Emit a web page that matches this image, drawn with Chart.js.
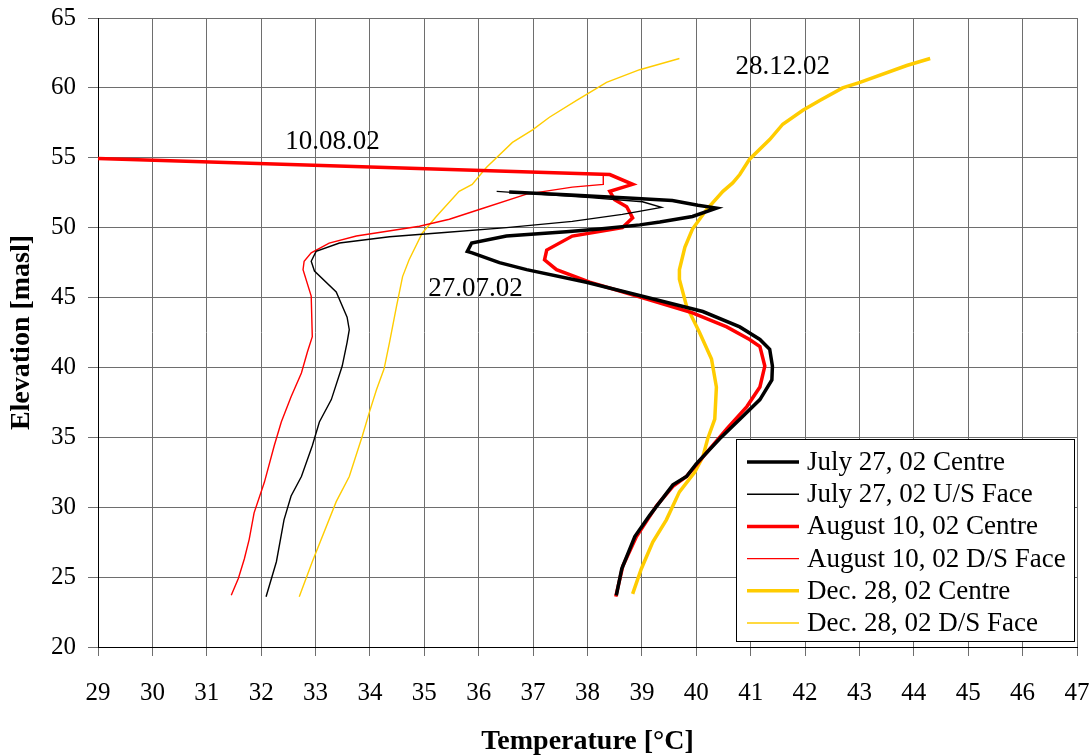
<!DOCTYPE html>
<html>
<head>
<meta charset="utf-8">
<script src="https://cdn.jsdelivr.net/npm/chart.js@4/dist/chart.umd.min.js"></script>
<style>
    html, body { margin: 0; padding: 0; background: #fff; }
    #wrap { width: 1092px; height: 756px; }
</style>
</head>
<body>
<div id="wrap"><canvas id="profile-chart" width="1092" height="756"></canvas></div>
<script>
// Temperature profiles (x = temperature °C, y = elevation masl)
const seriesLabels = [
    'July 27, 02 Centre',
    'July 27, 02 U/S Face',
    'August 10, 02 Centre',
    'August 10, 02 D/S Face',
    'Dec. 28, 02 Centre',
    'Dec. 28, 02 D/S Face'
];

const julyCentreTemp = [38.53, 38.63, 38.87, 39.14, 39.57, 39.82, 40.0, 40.43, 40.8, 41.17, 41.39, 41.4, 41.35, 41.17, 40.8, 40.12,
    38.9, 37.98, 36.88, 36.38, 35.88, 35.79, 35.87, 36.51, 37.61, 38.22, 38.96, 39.33, 39.93, 40.37, 40.03, 39.56, 38.83, 37.61, 36.56];
const julyCentreElev = [23.7, 25.6, 27.9, 29.4, 31.6, 32.2, 33.1, 34.9, 36.3, 37.7, 39.1, 40.1, 41.3, 42.0, 42.9, 44.0,
    45.2, 46.1, 47.0, 47.5, 48.2, 48.3, 48.9, 49.4, 49.7, 49.9, 50.2, 50.4, 50.8, 51.4, 51.6, 51.95, 52.1, 52.35, 52.55];

const julyFaceTemp = [32.09, 32.28, 32.42, 32.55, 32.74, 32.94, 33.07, 33.29, 33.49, 33.58, 33.62, 33.58, 33.38, 32.98, 32.92,
    33.01, 33.44, 34.36, 35.37, 36.51, 37.72, 38.64, 39.36, 39.01, 38.04, 36.33];
const julyFaceElev = [23.6, 26.1, 29.1, 30.8, 32.2, 34.4, 36.1, 37.7, 40.1, 41.8, 42.7, 43.6, 45.4, 46.9, 47.6,
    48.3, 48.9, 49.35, 49.65, 50.0, 50.45, 50.95, 51.45, 51.85, 52.15, 52.6];

const augCentreTemp = [38.52, 38.65, 38.9, 39.27, 39.57, 39.82, 40.19, 40.56, 40.93, 41.17, 41.26, 41.17, 40.98, 40.56, 39.93,
    39.09, 38.04, 37.43, 37.21, 37.25, 37.72, 38.64, 38.83, 38.72, 38.5, 38.41, 38.83, 38.41, 29.0];
const augCentreElev = [23.6, 25.8, 27.9, 30.1, 31.5, 32.2, 33.9, 35.6, 37.2, 38.6, 40.1, 41.5, 42.0, 42.9, 43.9,
    44.9, 46.1, 47.0, 47.7, 48.4, 49.4, 50.0, 50.7, 51.5, 52.0, 52.6, 53.1, 53.8, 54.95];

const augFaceTemp = [31.45, 31.58, 31.69, 31.78, 31.87, 32.06, 32.24, 32.37, 32.55, 32.74, 32.85, 32.94, 32.92, 32.77, 32.79,
    32.92, 33.25, 33.75, 34.91, 35.46, 36.01, 36.88, 37.72, 38.29, 38.29];
const augFaceElev = [23.7, 24.9, 26.3, 27.7, 29.6, 31.8, 34.4, 36.1, 37.9, 39.6, 41.1, 42.2, 45.1, 47.0, 47.6,
    48.2, 48.9, 49.4, 50.1, 50.6, 51.3, 52.4, 52.9, 53.1, 53.8];

const decCentreTemp = [38.83, 38.99, 39.2, 39.45, 39.69, 39.97, 40.12, 40.21, 40.34, 40.37, 40.28, 40.06, 39.82, 39.69, 39.69,
    39.79, 39.93, 40.19, 40.49, 40.67, 40.8, 40.98, 41.35, 41.59, 41.96, 42.27, 42.69, 43.01, 43.87, 44.3];
const decCentreElev = [23.8, 25.6, 27.5, 29.1, 31.1, 32.5, 33.6, 34.9, 36.3, 38.6, 40.6, 42.5, 44.4, 46.3, 47.0,
    48.6, 49.9, 51.3, 52.6, 53.2, 53.8, 54.9, 56.3, 57.4, 58.4, 59.1, 60.0, 60.4, 61.6, 62.1];

const decFaceTemp = [32.7, 32.94, 33.38, 33.62, 33.86, 33.99, 34.12, 34.26, 34.36, 34.49, 34.6, 34.72, 34.96, 35.22, 35.64,
    35.88, 36.14, 36.62, 36.99, 37.3, 37.8, 38.35, 38.96, 39.69];
const decFaceElev = [23.6, 26.1, 30.4, 32.2, 35.1, 36.8, 38.4, 39.9, 41.8, 44.4, 46.5, 47.7, 49.6, 50.8, 52.6,
    53.1, 54.3, 56.1, 57.0, 57.9, 59.1, 60.4, 61.3, 62.1];

// Date labels written on the plot
const noteText = ['10.08.02', '27.07.02', '28.12.02'];
const noteTemp = [33.31, 35.94, 41.59];
const noteElev = [56.1, 45.6, 61.5];

const xMin = 29, xMax = 47, xStep = 1;
const yMin = 20, yMax = 65, yStep = 5;

const FONT = "'Liberation Serif', 'Times New Roman', serif";

function toPoints(temps, elevs) {
    return temps.map(function(t, i) { return { x: t, y: elevs[i] }; });
}

const seriesTemps = [julyCentreTemp, julyFaceTemp, augCentreTemp, augFaceTemp, decCentreTemp, decFaceTemp];
const seriesElevs = [julyCentreElev, julyFaceElev, augCentreElev, augFaceElev, decCentreElev, decFaceElev];
const seriesColors = ['#000000', '#000000', '#ff0000', '#ff0000', '#ffcc00', '#ffcc00'];
const seriesWidths = [3.5, 1.4, 3.5, 1.4, 3.5, 1.4];

const datasets = seriesLabels.map(function(label, i) {
    return {
        label: label,
        data: toPoints(seriesTemps[i], seriesElevs[i]),
        showLine: true,
        borderColor: seriesColors[i],
        backgroundColor: seriesColors[i],
        borderWidth: seriesWidths[i],
        pointRadius: 0,
        tension: 0,
        fill: false,
        clip: 4
    };
});

// Date labels placed through the scales
const notesPlugin = {
    id: 'notes',
    afterDatasetsDraw: function(chart) {
        const ctx = chart.ctx;
        const xs = chart.scales.x, ys = chart.scales.y;
        ctx.save();
        ctx.font = '27px ' + FONT;
        ctx.fillStyle = '#000';
        ctx.textAlign = 'center';
        ctx.textBaseline = 'middle';
        noteText.forEach(function(txt, i) {
            ctx.fillText(txt, xs.getPixelForValue(noteTemp[i]), ys.getPixelForValue(noteElev[i]));
        });
        ctx.restore();
    }
};

// Boxed legend inside the plot, bottom right
const boxLegendPlugin = {
    id: 'boxLegend',
    afterDraw: function(chart) {
        const ctx = chart.ctx;
        const area = chart.chartArea;
        const w = 338, h = 202;
        const left = area.right - 3 - w;
        const top = area.bottom - 6 - h;
        ctx.save();
        ctx.fillStyle = '#fff';
        ctx.fillRect(left, top, w, h);
        ctx.strokeStyle = '#000';
        ctx.lineWidth = 1;
        ctx.strokeRect(left + 0.5, top + 0.5, w, h);
        ctx.font = '27px ' + FONT;
        ctx.textBaseline = 'middle';
        ctx.textAlign = 'left';
        chart.data.datasets.forEach(function(ds, i) {
            const y = top + 23 + i * 32.2;
            ctx.beginPath();
            ctx.strokeStyle = ds.borderColor;
            ctx.lineWidth = ds.borderWidth;
            ctx.moveTo(left + 11, y);
            ctx.lineTo(left + 63, y);
            ctx.stroke();
            ctx.fillStyle = '#000';
            ctx.fillText(ds.label, left + 71, y + 1);
        });
        ctx.restore();
    }
};

const ctx = document.getElementById('profile-chart').getContext('2d');
new Chart(ctx, {
    type: 'scatter',
    data: { datasets: datasets },
    options: {
        responsive: false,
        animation: false,
        events: [],
        layout: { padding: { top: 18, right: 15, left: 0, bottom: 0 } },
        plugins: {
            legend: { display: false },
            tooltip: { enabled: false }
        },
        scales: {
            x: {
                type: 'linear',
                min: xMin,
                max: xMax,
                afterFit: function(scale) {
                    scale.height = 109;
                    scale.paddingLeft = 0;
                    scale.paddingRight = 0;
                },
                ticks: {
                    stepSize: xStep,
                    color: '#000',
                    padding: 22,
                    maxRotation: 0,
                    font: { family: FONT, size: 25 }
                },
                grid: { color: '#6e6e6e', lineWidth: 1, tickLength: 9 },
                border: { display: true, color: '#000', width: 1 },
                title: {
                    display: true,
                    text: 'Temperature [°C]',
                    color: '#000',
                    font: { family: FONT, size: 28, weight: 'bold', lineHeight: 1.0 },
                    padding: { top: 0, bottom: 0 }
                }
            },
            y: {
                type: 'linear',
                min: yMin,
                max: yMax,
                afterFit: function(scale) {
                    scale.width = 98;
                    scale.paddingTop = 0;
                    scale.paddingBottom = 0;
                },
                ticks: {
                    stepSize: yStep,
                    color: '#000',
                    padding: 12,
                    font: { family: FONT, size: 25 }
                },
                grid: { color: '#6e6e6e', lineWidth: 1, tickLength: 10 },
                border: { display: true, color: '#000', width: 1 },
                title: {
                    display: true,
                    text: 'Elevation [masl]',
                    color: '#000',
                    font: { family: FONT, size: 28, weight: 'bold', lineHeight: 1.0 },
                    padding: { top: 8, bottom: 0 }
                }
            }
        }
    },
    plugins: [notesPlugin, boxLegendPlugin]
});
</script>
</body>
</html>
